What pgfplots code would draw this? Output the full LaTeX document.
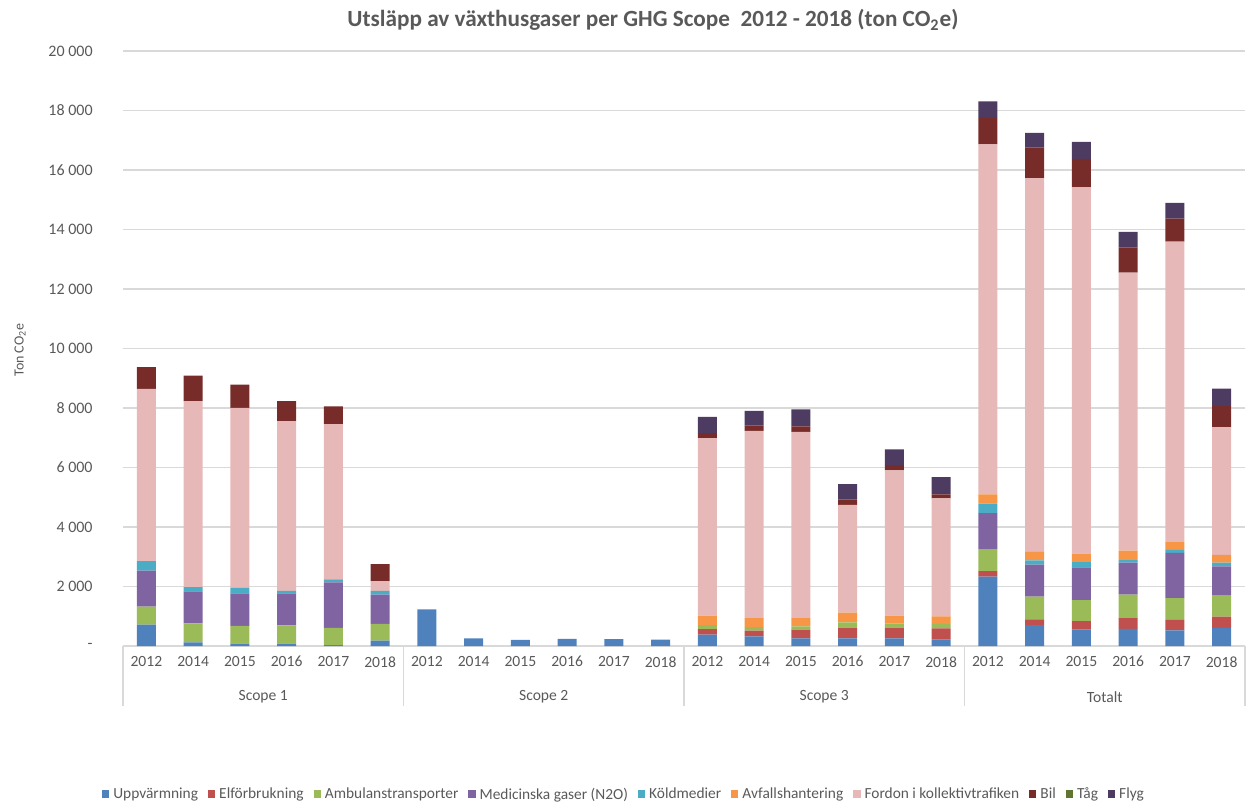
\documentclass[border=0pt]{standalone}
\usepackage{pgfplots}
\pgfplotsset{compat=1.18}
\usepackage{pgfplotstable}
\usepackage{fontspec}
\setmainfont{Carlito}
\definecolor{cUpp}{RGB}{79,129,189}
\definecolor{cEl}{RGB}{192,80,77}
\definecolor{cAmb}{RGB}{155,187,89}
\definecolor{cMed}{RGB}{128,100,162}
\definecolor{cKold}{RGB}{75,172,198}
\definecolor{cAvf}{RGB}{247,150,70}
\definecolor{cFord}{RGB}{230,185,184}
\definecolor{cBil}{RGB}{119,44,42}
\definecolor{cTag}{RGB}{95,117,48}
\definecolor{cFlyg}{RGB}{77,59,98}
\definecolor{txt}{RGB}{89,89,89}
\definecolor{gridc}{RGB}{217,217,217}

\pgfplotstableread{
x upp el amb med kold avf ford bil tag flyg
0 720 0 605 1210 314 0 5793 728 0 0
1 120 0 640 1076 145 0 6252 852 0 0
2 80 0 594 1098 180 0 6050 784 0 0
3 80 0 615 1075 79 0 5714 672 0 0
4 30 0 582 1524 101 0 5221 594 0 0
5 180 0 560 985 124 0 336 571 0 0
6 1230 0 0 0 0 0 0 0 0 0
7 260 0 0 0 0 0 0 0 0 0
8 210 0 0 0 0 0 0 0 0 0
9 240 0 0 0 0 0 0 0 0 0
10 235 0 0 0 0 0 0 0 0 0
11 215 0 0 0 0 0 0 0 0 0
12 380 190 134 0 0 314 5969 168 0 548
13 325 190 123 0 0 303 6293 179 0 493
14 258 291 112 0 0 280 6259 179 0 572
15 258 358 179 0 0 325 3628 179 0 515
16 258 358 145 0 0 258 4882 180 0 526
17 213 381 145 0 0 258 3964 134 0 582
18 2330 190 739 1210 314 314 11762 896 0 548
19 705 190 763 1076 145 303 12545 1031 0 493
20 548 291 706 1098 180 280 12309 963 0 572
21 578 358 794 1075 79 325 9342 851 0 515
22 523 358 727 1524 101 258 10103 774 0 526
23 608 381 705 985 124 258 4300 705 0 582
}\data

\begin{document}
\begin{tikzpicture}[x=1pt,y=1pt]
\path[use as bounding box] (0,0) rectangle (626.5,402.5);
\node[font=\fontsize{11.6}{13}\selectfont\bfseries, text=txt] at (326.5,392.5)
  {Utsläpp av växthusgaser per GHG Scope\ \ 2012 - 2018 (ton CO\textsubscript{2}e)};
\node[font=\fontsize{7}{8}\selectfont, text=txt, rotate=90] at (10,227.5) {Ton CO\textsubscript{2}e};
\begin{axis}[
  at={(61.5pt,79.5pt)}, anchor=south west,
  scale only axis, width=561pt, height=297.5pt,
  xmin=-0.5, xmax=23.5, ymin=0, ymax=20000,
  ybar stacked, bar width=0.41,
  clip=false,
  scaled y ticks=false,
  axis line style={draw=none},
  tick style={draw=none},
  ymajorgrids, grid style={gridc, line width=0.6pt},
  ytick={0,2000,...,20000},
  yticklabels={-,2 000,4 000,6 000,8 000,10 000,12 000,14 000,16 000,18 000,20 000},
  yticklabel style={font=\fontsize{8}{9}\selectfont, text=txt, anchor=east, inner sep=0pt, xshift=-15pt},
  xtick={0,...,23},
  xticklabels={2012,2014,2015,2016,2017,2018,2012,2014,2015,2016,2017,2018,2012,2014,2015,2016,2017,2018,2012,2014,2015,2016,2017,2018},
  xticklabel style={font=\fontsize{7.8}{9}\selectfont, text=txt, anchor=north, inner sep=0pt, yshift=-5pt},
  legend columns=10,
  legend style={at={(0.4474,-0.2504)}, anchor=center, draw=none, fill=none,
    font=\fontsize{7.7}{9}\selectfont, text=txt,
    /tikz/every even column/.append style={column sep=3pt},
    /tikz/every odd column/.append style={column sep=0pt}},
  legend image code/.code={\path[#1,draw=none] (0pt,-1.3pt) rectangle (3.6pt,2.3pt);},
]
\addplot[fill=cUpp, draw=none] table[x=x,y=upp]{\data}; \addlegendentry{Uppvärmning}
\addplot[fill=cEl, draw=none] table[x=x,y=el]{\data}; \addlegendentry{Elförbrukning}
\addplot[fill=cAmb, draw=none] table[x=x,y=amb]{\data}; \addlegendentry{Ambulanstransporter}
\addplot[fill=cMed, draw=none] table[x=x,y=med]{\data}; \addlegendentry{Medicinska gaser (N2O)}
\addplot[fill=cKold, draw=none] table[x=x,y=kold]{\data}; \addlegendentry{Köldmedier}
\addplot[fill=cAvf, draw=none] table[x=x,y=avf]{\data}; \addlegendentry{Avfallshantering}
\addplot[fill=cFord, draw=none] table[x=x,y=ford]{\data}; \addlegendentry{Fordon i kollektivtrafiken}
\addplot[fill=cBil, draw=none] table[x=x,y=bil]{\data}; \addlegendentry{Bil}
\addplot[fill=cTag, draw=none] table[x=x,y=tag]{\data}; \addlegendentry{Tåg}
\addplot[fill=cFlyg, draw=none] table[x=x,y=flyg]{\data}; \addlegendentry{Flyg}
\draw[gridc, line width=0.6pt] (axis cs:-0.5,0) -- (axis cs:23.5,0);
\draw[gridc, line width=0.6pt] (axis cs:-0.5,0) -- ([yshift=-30pt]axis cs:-0.5,0);
\draw[gridc, line width=0.6pt] (axis cs:5.5,0) -- ([yshift=-30pt]axis cs:5.5,0);
\draw[gridc, line width=0.6pt] (axis cs:11.5,0) -- ([yshift=-30pt]axis cs:11.5,0);
\draw[gridc, line width=0.6pt] (axis cs:17.5,0) -- ([yshift=-30pt]axis cs:17.5,0);
\draw[gridc, line width=0.6pt] (axis cs:23.5,0) -- ([yshift=-30pt]axis cs:23.5,0);
\node[font=\fontsize{7.8}{9}\selectfont, text=txt] at ([yshift=-25.5pt]axis cs:2.5,0) {Scope 1};
\node[font=\fontsize{7.8}{9}\selectfont, text=txt] at ([yshift=-25.5pt]axis cs:8.5,0) {Scope 2};
\node[font=\fontsize{7.8}{9}\selectfont, text=txt] at ([yshift=-25.5pt]axis cs:14.5,0) {Scope 3};
\node[font=\fontsize{7.8}{9}\selectfont, text=txt] at ([yshift=-25.5pt]axis cs:20.5,0) {Totalt};
\end{axis}
\end{tikzpicture}
\end{document}
